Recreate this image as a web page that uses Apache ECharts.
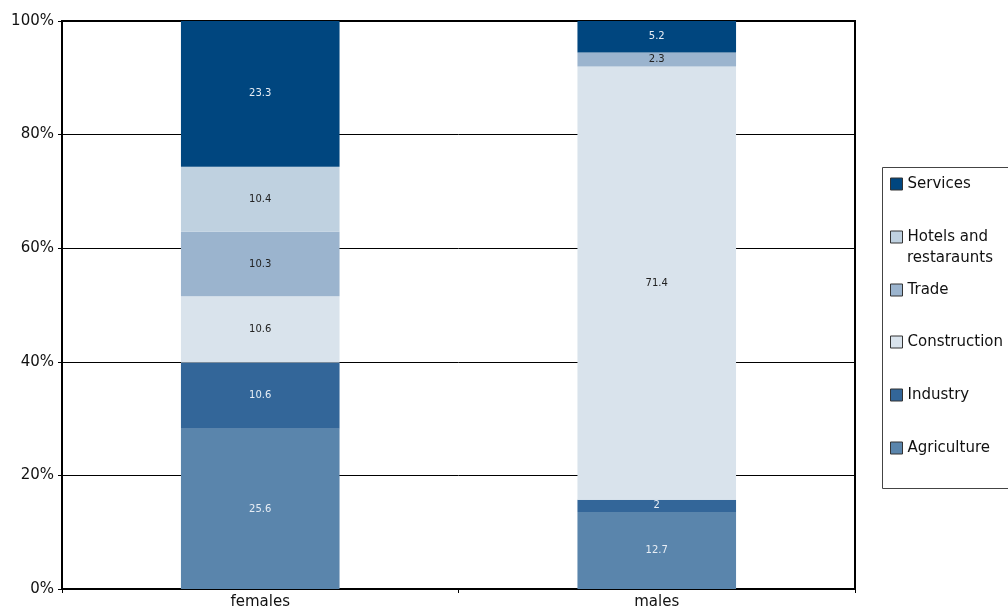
<!DOCTYPE html>
<html lang="en">
<head>
	<meta charset="UTF-8">
	<title>Employment by sector</title>
	<script src="https://cdn.jsdelivr.net/npm/echarts@6/dist/echarts.min.js"></script>
	<style>
		html,body{margin:0;padding:0;background:#fff;}
		#box{width:1008px;height:615px;}
	</style>
</head>
<body>
<div id="box"></div>
<script>
	// data (raw values, shown as 100% stacks)
	let groups=['females','males'];
	let sectors=['Agriculture','Industry','Construction','Trade','Hotels and restaraunts','Services'];
	let agriculture=[25.6,12.7];
	let industry=[10.6,2];
	let construction=[10.6,71.4];
	let trade=[10.3,2.3];
	let hotels=[10.4,0];
	let services=[23.3,5.2];
	let yTicks=['0%','20%','40%','60%','80%','100%'];

	let values=[agriculture,industry,construction,trade,hotels,services];
	let colors=['#5a85ac','#336699','#d9e3ec','#9bb4ce','#bfd1e0','#00467f'];
	let labelColors=['#e8eef5','#e8eef5','#222','#222','#222','#e8eef5'];

	let totals=groups.map((g,i)=>values.reduce((s,arr)=>s+arr[i],0));

	let font='DejaVu Sans';
	let series=sectors.map((name,k)=>({
		name:name,
		type:'bar',
		stack:'all',
		barWidth:'40%',
		itemStyle:{color:colors[k]},
		label:{
			show:true,
			color:labelColors[k],
			fontSize:10,
			fontFamily:font,
			formatter:p=>p.data.raw===0?'':String(p.data.raw)
		},
		data:values[k].map((v,i)=>({value:v/totals[i]*100,raw:v}))
	}));

	// one legend per entry so the rows sit where the picture has them
	let legendRows=[184,237,290,342,395,448];
	let legends=sectors.slice().reverse().map((name,j)=>({
		orient:'vertical',
		left:890,top:legendRows[j]-8,
		padding:0,
		itemWidth:12,itemHeight:12,
		icon:'rect',
		itemStyle:{borderColor:'#333',borderWidth:1},
		textStyle:{fontSize:15,fontFamily:font,color:'#111',lineHeight:16},
		formatter:n=>n==='Hotels and restaraunts'?'Hotels and':n,
		data:[name]
	}));

	let options={
		animation:false,
		grid:{left:62,right:153,top:21,bottom:26,show:true,borderColor:'#000',borderWidth:2},
		xAxis:{
			type:'category',
			data:groups,
			axisLine:{lineStyle:{color:'#000',width:2}},
			axisTick:{show:true,length:4,lineStyle:{color:'#000'}},
			axisLabel:{color:'#111',fontSize:15,fontFamily:font,margin:6}
		},
		yAxis:{
			type:'value',
			min:0,max:100,interval:20,
			axisLine:{show:true,lineStyle:{color:'#000',width:2}},
			axisTick:{show:true,length:4,lineStyle:{color:'#000'}},
			splitLine:{lineStyle:{color:'#000',width:1}},
			axisLabel:{color:'#111',fontSize:15,fontFamily:font,margin:8,
				formatter:v=>yTicks[v/20]}
		},
		legend:legends,
		graphic:[
			{type:'rect',left:882,top:167,z:-1,
				shape:{width:130,height:321},
				style:{fill:'#fff',stroke:'#444',lineWidth:1}},
			{type:'text',left:907,top:251,
				style:{text:'restaraunts',fontSize:15,fontFamily:font,fill:'#111'}}
		],
		series:series
	};

	let chart=echarts.init(document.getElementById('box'));
	chart.setOption(options);
</script>
</body>
</html>
